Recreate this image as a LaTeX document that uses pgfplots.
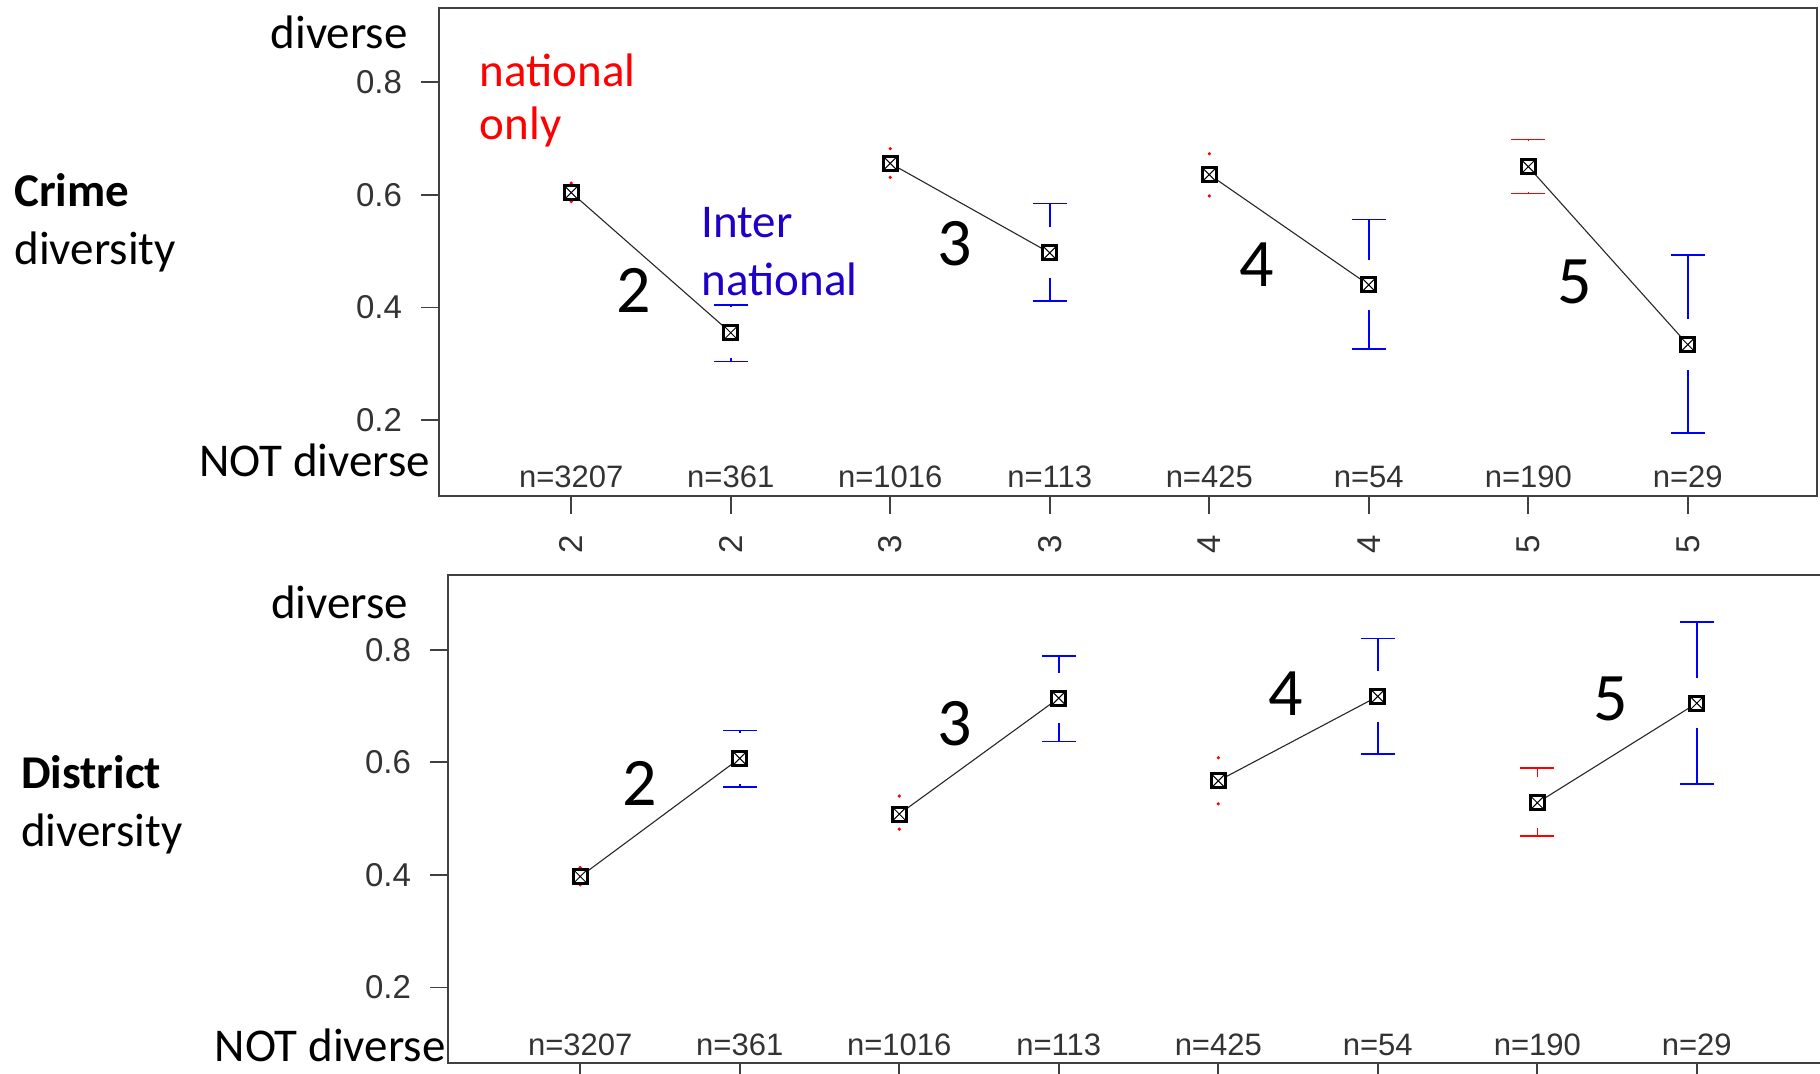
\documentclass[border=0pt]{standalone}
\usepackage{pgfplots}
\pgfplotsset{compat=1.18}
\usepackage{pgfplotstable}
\usepackage{fontspec}
\setmainfont{Carlito}
\newfontfamily\arialfont{Liberation Sans}

\definecolor{natred}{RGB}{255,0,0}
\definecolor{intblue}{RGB}{0,0,255}
\definecolor{inttext}{RGB}{30,0,200}
\definecolor{axgray}{RGB}{64,64,64}

\pgfdeclareplotmark{sqx}{%
  \pgfpathrectangle{\pgfqpoint{-\pgfplotmarksize}{-\pgfplotmarksize}}{\pgfqpoint{2\pgfplotmarksize}{2\pgfplotmarksize}}%
  \pgfusepathqfillstroke
  \begin{pgfscope}%
  \pgfsetlinewidth{0.5pt}%
  \pgfpathmoveto{\pgfqpoint{-\pgfplotmarksize}{-\pgfplotmarksize}}\pgfpathlineto{\pgfqpoint{\pgfplotmarksize}{\pgfplotmarksize}}%
  \pgfpathmoveto{\pgfqpoint{-\pgfplotmarksize}{\pgfplotmarksize}}\pgfpathlineto{\pgfqpoint{\pgfplotmarksize}{-\pgfplotmarksize}}%
  \pgfusepathqstroke
  \end{pgfscope}}

% Crime diversity
\pgfplotstableread{
x m lo hi
2 0.355 0.304 0.404
4 0.497 0.411 0.585
6 0.440 0.326 0.556
8 0.334 0.177 0.493
}\crimeInt
\pgfplotstableread{
x m lo hi
7 0.650 0.602 0.698
}\crimeNatCap
\pgfplotstableread{
x m lo hi
1 0.604 0.588 0.621
3 0.656 0.631 0.682
5 0.636 0.598 0.673
}\crimeNatDot
% District diversity
\pgfplotstableread{
x m lo hi
2 0.607 0.556 0.656
4 0.714 0.637 0.789
6 0.717 0.615 0.820
8 0.705 0.561 0.849
}\distInt
\pgfplotstableread{
x m lo hi
7 0.528 0.469 0.590
}\distNatCap
\pgfplotstableread{
x m lo hi
1 0.397 0.382 0.413
3 0.508 0.481 0.540
5 0.567 0.526 0.608
}\distNatDot

\pgfplotsset{
  panel/.style={
    scale only axis, width=689pt, height=244pt,
    xmin=0.171, xmax=8.81, ymin=0.065, ymax=0.932,
    axis line style={axgray, line width=0.9pt},
    tick style={axgray, line width=0.9pt},
    tick align=outside, major tick length=9pt,
    xtick={1,2,3,4,5,6,7,8},
    ytick={0.2,0.4,0.6,0.8},
    /pgf/number format/assume math mode=true,
    /pgf/number format/fixed, /pgf/number format/precision=1,
    yticklabel style={font=\arialfont\fontsize{16.5}{17}\selectfont, text=black!80, anchor=east, xshift=-6pt},
    xticklabel style={font=\arialfont\fontsize{16.5}{17}\selectfont, text=black!80, rotate=90, anchor=east},
    xticklabel shift=7pt,
    xtick pos=bottom, ytick pos=left,
    clip=false,
  },
  gapup/.style n args={1}{forget plot, draw=none, mark=none,
    error bars/.cd, y dir=plus, y explicit, error mark=-,
    error bar style={draw=#1, line width=0.75pt},
    error mark options={rotate=90, draw=#1, line width=0.75pt, mark size=8.5pt}},
  gapdn/.style n args={1}{forget plot, draw=none, mark=none,
    error bars/.cd, y dir=minus, y explicit, error mark=-,
    error bar style={draw=#1, line width=0.75pt},
    error mark options={rotate=90, draw=#1, line width=0.75pt, mark size=8.5pt}},
  dots/.style={forget plot, only marks, mark=*, mark size=0.6pt, natred},
  meanline/.style={black!85, line width=0.55pt, mark=sqx, mark size=3.5pt,
    mark options={solid, draw=black, fill=white, line width=1.5pt}},
}

\newcommand{\bigfont}{\fontsize{23.5}{28}\selectfont}
\newcommand{\numfont}{\fontsize{34}{40}\selectfont}
\newcommand{\nfont}{\arialfont\fontsize{15.5}{16}\selectfont}

\begin{document}
\begin{tikzpicture}
\useasboundingbox (0,0) rectangle (910pt,537pt);

% ---------------- Top: Crime diversity ----------------
\begin{axis}[panel, at={(219.5pt,289pt)}, anchor=south west, xticklabels={2,2,3,3,4,4,5,5}]
  \addplot[gapup={intblue}] table[x=x, y expr=\thisrow{m}+0.045, y error plus expr=\thisrow{hi}-\thisrow{m}-0.045] {\crimeInt};
  \addplot[gapdn={intblue}] table[x=x, y expr=\thisrow{m}-0.045, y error minus expr=\thisrow{m}-0.045-\thisrow{lo}] {\crimeInt};
  \addplot[gapup={natred}] table[x=x, y expr=\thisrow{m}+0.045, y error plus expr=\thisrow{hi}-\thisrow{m}-0.045] {\crimeNatCap};
  \addplot[gapdn={natred}] table[x=x, y expr=\thisrow{m}-0.045, y error minus expr=\thisrow{m}-0.045-\thisrow{lo}] {\crimeNatCap};
  \addplot[dots] table[x=x, y=hi] {\crimeNatDot};
  \addplot[dots] table[x=x, y=lo] {\crimeNatDot};

  \addplot[meanline] coordinates {(1,0.604) (2,0.355)};
  \addplot[meanline] coordinates {(3,0.656) (4,0.497)};
  \addplot[meanline] coordinates {(5,0.636) (6,0.440)};
  \addplot[meanline] coordinates {(7,0.650) (8,0.334)};

  \foreach \i/\n in {1/3207,2/361,3/1016,4/113,5/425,6/54,7/190,8/29}{
    \edef\tmp{\noexpand\node[anchor=base, inner sep=0pt, font=\noexpand\nfont, text=black!80, yshift=4pt] at (axis cs:\i,0.065) {n=\n};}\tmp
  }

  \node[anchor=base west, inner sep=0pt, font=\bigfont, text=natred] at (axis cs:0.425,0.792) {national};
  \node[anchor=base west, inner sep=0pt, font=\bigfont, text=natred] at (axis cs:0.425,0.699) {only};
  \node[anchor=base west, inner sep=0pt, font=\bigfont, text=inttext] at (axis cs:1.815,0.524) {Inter};
  \node[anchor=base west, inner sep=0pt, font=\bigfont, text=inttext] at (axis cs:1.815,0.421) {national};

  \node[font=\numfont, inner sep=0pt] at (axis cs:1.39,0.431) {2};
  \node[font=\numfont, inner sep=0pt] at (axis cs:3.405,0.513) {3};
  \node[font=\numfont, inner sep=0pt] at (axis cs:5.30,0.476) {4};
  \node[font=\numfont, inner sep=0pt] at (axis cs:7.29,0.445) {5};
\end{axis}

% ---------------- Bottom: District diversity ----------------
\begin{axis}[panel, at={(224pt,5.3pt)}, anchor=south west, xticklabels={}]
  \addplot[gapup={intblue}] table[x=x, y expr=\thisrow{m}+0.045, y error plus expr=\thisrow{hi}-\thisrow{m}-0.045] {\distInt};
  \addplot[gapdn={intblue}] table[x=x, y expr=\thisrow{m}-0.045, y error minus expr=\thisrow{m}-0.045-\thisrow{lo}] {\distInt};
  \addplot[gapup={natred}] table[x=x, y expr=\thisrow{m}+0.045, y error plus expr=\thisrow{hi}-\thisrow{m}-0.045] {\distNatCap};
  \addplot[gapdn={natred}] table[x=x, y expr=\thisrow{m}-0.045, y error minus expr=\thisrow{m}-0.045-\thisrow{lo}] {\distNatCap};
  \addplot[dots] table[x=x, y=hi] {\distNatDot};
  \addplot[dots] table[x=x, y=lo] {\distNatDot};

  \addplot[meanline] coordinates {(1,0.397) (2,0.607)};
  \addplot[meanline] coordinates {(3,0.508) (4,0.714)};
  \addplot[meanline] coordinates {(5,0.567) (6,0.717)};
  \addplot[meanline] coordinates {(7,0.528) (8,0.705)};

  \foreach \i/\n in {1/3207,2/361,3/1016,4/113,5/425,6/54,7/190,8/29}{
    \edef\tmp{\noexpand\node[anchor=base, inner sep=0pt, font=\noexpand\nfont, text=black!80, yshift=4pt] at (axis cs:\i,0.065) {n=\n};}\tmp
  }

  \node[font=\numfont, inner sep=0pt] at (axis cs:1.37,0.563) {2};
  \node[font=\numfont, inner sep=0pt] at (axis cs:3.35,0.669) {3};
  \node[font=\numfont, inner sep=0pt] at (axis cs:5.42,0.721) {4};
  \node[font=\numfont, inner sep=0pt] at (axis cs:7.46,0.713) {5};
\end{axis}

% ---------------- Side labels ----------------
\node[anchor=base east, inner sep=0pt, font=\bigfont] at (204pt,512.6pt) {diverse};
\node[anchor=base east, inner sep=0pt, font=\bigfont] at (215.3pt,298.5pt) {NOT diverse};
\node[anchor=base west, inner sep=0pt, font=\bigfont] at (7pt,433.7pt) {\textbf{Crime}};
\node[anchor=base west, inner sep=0pt, font=\bigfont] at (7pt,404.7pt) {diversity};

\node[anchor=base east, inner sep=0pt, font=\bigfont] at (204.3pt,227.7pt) {diverse};
\node[anchor=base east, inner sep=0pt, font=\bigfont] at (222.9pt,6pt) {NOT diverse};
\node[anchor=base west, inner sep=0pt, font=\bigfont] at (10.4pt,142.5pt) {\textbf{District}};
\node[anchor=base west, inner sep=0pt, font=\bigfont] at (10.4pt,113.5pt) {diversity};
\end{tikzpicture}
\end{document}
